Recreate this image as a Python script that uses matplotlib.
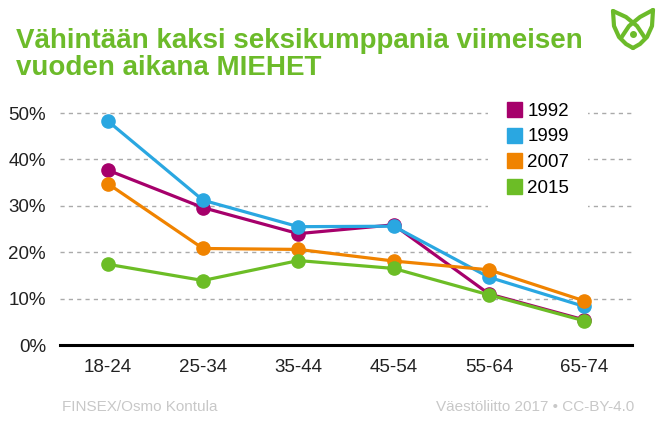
import matplotlib.pyplot as plt
from matplotlib.lines import Line2D

plt.rcParams['font.family'] = ['Liberation Sans', 'DejaVu Sans']

ages = ["18-24", "25-34", "35-44", "45-54", "55-64", "65-74"]
years = ["1992", "1999", "2007", "2015"]
v1992 = [37.7, 29.6, 24.0, 25.9, 11.0, 5.4]
v1999 = [48.3, 31.2, 25.5, 25.6, 14.6, 8.3]
v2007 = [34.8, 20.8, 20.6, 18.1, 16.2, 9.5]
v2015 = [17.4, 13.9, 18.2, 16.5, 10.8, 5.2]
yticks = [0, 10, 20, 30, 40, 50]

colors = ["#a6006b", "#2aa7e1", "#f08300", "#6cbd26"]
green = "#6cbb2a"

fig = plt.figure(figsize=(6.62, 4.40), dpi=100)
ax = fig.add_axes([60 / 662, 1 - 345 / 440, 572 / 662, 232 / 440])

x = list(range(len(ages)))
for vals, c in zip([v1992, v1999, v2007, v2015], colors):
    ax.plot(x, vals, color=c, lw=2.3, marker="o", ms=9.5, clip_on=False, zorder=3)

ax.set_xlim(-0.5, 5.5)
ax.set_ylim(0, 50)
ax.set_yticks(yticks)
ax.set_yticklabels([f"{t}%" for t in yticks])
ax.set_xticks(x)
ax.set_xticklabels(ages)
for s in ["top", "right", "left"]:
    ax.spines[s].set_visible(False)
ax.spines["bottom"].set_linewidth(2.2)
ax.spines["bottom"].set_color("black")
ax.tick_params(axis="both", length=0, labelsize=13.5, colors="#222222")
ax.tick_params(axis="y", pad=10)
ax.tick_params(axis="x", pad=10)
for t in yticks[1:]:
    ax.axhline(t, color="#aaaaaa", lw=1, ls=(0, (3, 3)), zorder=1, clip_on=False)

handles = [Line2D([], [], marker="s", ls="none", ms=10.8, color=c) for c in colors]
leg = ax.legend(handles, years, loc="upper left", bbox_to_anchor=(488 / 662, 1 - 84 / 440),
                bbox_transform=fig.transFigure, frameon=True, facecolor="white",
                edgecolor="none", framealpha=1, fontsize=13.5, handlelength=0.8,
                handletextpad=0.3, labelspacing=0.45, borderpad=1.0, borderaxespad=0)
leg.set_zorder(5)

fig.text(16 / 662, 1 - 75 / 440, "Vähintään kaksi seksikumppania viimeisen\nvuoden aikana MIEHET",
         color=green, fontsize=20, fontweight="bold", va="baseline", ha="left", linespacing=1.07)

fig.text(62 / 662, 1 - 407 / 440, "FINSEX/Osmo Kontula", color="#c8c8c8", fontsize=11, va="center")
fig.text(634 / 662, 1 - 407 / 440, "Väestöliitto 2017 • CC-BY-4.0", color="#c8c8c8",
         fontsize=11, va="center", ha="right")

# logo
ov = fig.add_axes([0, 0, 1, 1], zorder=10)
ov.set_xlim(0, 662)
ov.set_ylim(440, 0)
ov.axis("off")
lw = 3
ov.plot([613, 614, 619, 626, 633], [11, 26, 37, 44, 48], color=green, lw=lw, solid_capstyle="round")
ov.plot([653, 652, 647, 640, 633], [10, 26, 37, 44, 48], color=green, lw=lw, solid_capstyle="round")
ov.plot([613, 626, 637, 645], [11, 17, 26, 38], color=green, lw=lw, solid_capstyle="round")
ov.plot([653, 640, 629, 621], [10, 17, 26, 38], color=green, lw=lw, solid_capstyle="round")
ov.plot([633], [34], marker="o", ms=4, color=green)

fig.savefig("out.png", dpi=100)
